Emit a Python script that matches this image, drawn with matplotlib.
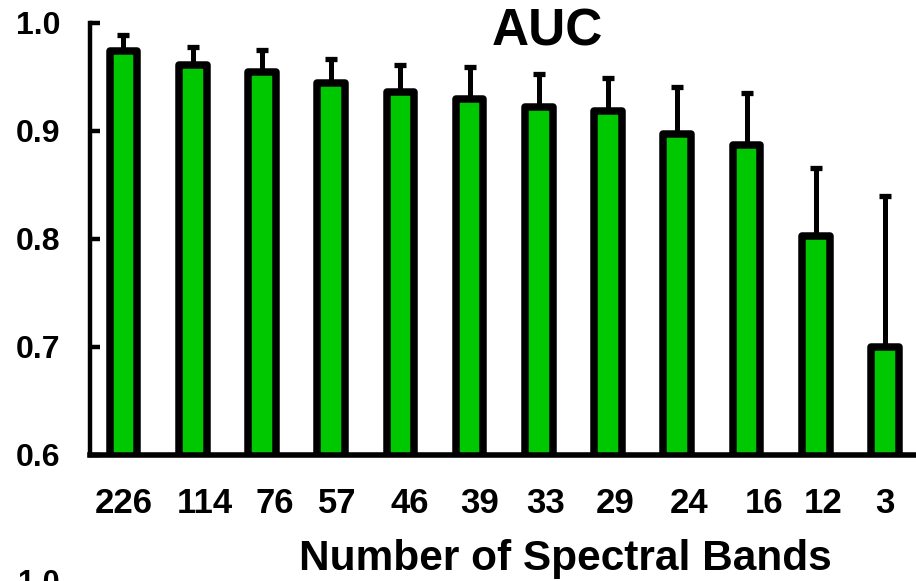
import matplotlib.pyplot as plt
import matplotlib.transforms as mtransforms
import numpy as np

plt.rcParams['font.family'] = ['Liberation Sans', 'DejaVu Sans']
plt.rcParams['font.weight'] = 'bold'

bands = ['226', '114', '76', '57', '46', '39', '33', '29', '24', '16', '12', '3']
auc = [0.974, 0.961, 0.954, 0.944, 0.936, 0.929, 0.922, 0.918, 0.897, 0.887, 0.802, 0.700]
auc_err = [0.014, 0.0165, 0.0205, 0.022, 0.025, 0.030, 0.0305, 0.031, 0.043, 0.048, 0.0635, 0.139]

# small horizontal nudges of the category labels, in pixels
label_shift = [0, 12, 13, 6, 9, 10, 7, 7, 12, 18, 7, 0]

fig = plt.figure(figsize=(9.16, 5.81), dpi=100)
ax = fig.add_axes([89.5 / 916, (581 - 454.5) / 581, 840.5 / 916, 432 / 581])

x = np.arange(len(bands))
err = [np.zeros(len(auc_err)), auc_err]
ax.errorbar(x, auc, yerr=err, fmt='none', ecolor='black', elinewidth=3.6,
            capsize=4.6, capthick=3.8, zorder=1)
bars = ax.bar(x, auc, width=0.4, bottom=0, color='#00c800', edgecolor='black',
              linewidth=5.4, zorder=2)
for b in bars:
    b.set_joinstyle('round')

ax.set_xlim(-0.49, 11.65)
ax.set_ylim(0.6, 1.0)
ax.set_yticks([0.6, 0.7, 0.8, 0.9, 1.0])
ax.set_yticklabels(['0.6', '0.7', '0.8', '0.9', '1.0'])
ax.set_xticks(x)
ax.set_xticklabels(bands)

ax.tick_params(axis='y', direction='in', length=7, width=3.2, pad=21, labelsize=23)
ax.tick_params(axis='x', length=0, pad=23.5, labelsize=25)
for lbl, dx in zip(ax.get_xticklabels(), label_shift):
    lbl.set_transform(lbl.get_transform() +
                      mtransforms.ScaledTranslation(dx / 100, 0, fig.dpi_scale_trans))

ax.spines['top'].set_visible(False)
ax.spines['right'].set_visible(False)
ax.spines['left'].set_linewidth(3.2)
ax.spines['bottom'].set_linewidth(4)

fig.text(547 / 916, (581 - 45) / 581, 'AUC', ha='center', va='baseline',
         fontsize=37, fontweight='bold')
fig.text(565 / 916, (581 - 570) / 581, 'Number of Spectral Bands', ha='center',
         va='baseline', fontsize=30.5, fontweight='bold')
# top of the next panel's tick label peeks in at the bottom edge
fig.text(60 / 916, (581 - 592) / 581, '1.0', ha='right', va='baseline',
         fontsize=22, fontweight='bold')

fig.savefig('out.png', dpi=100)
